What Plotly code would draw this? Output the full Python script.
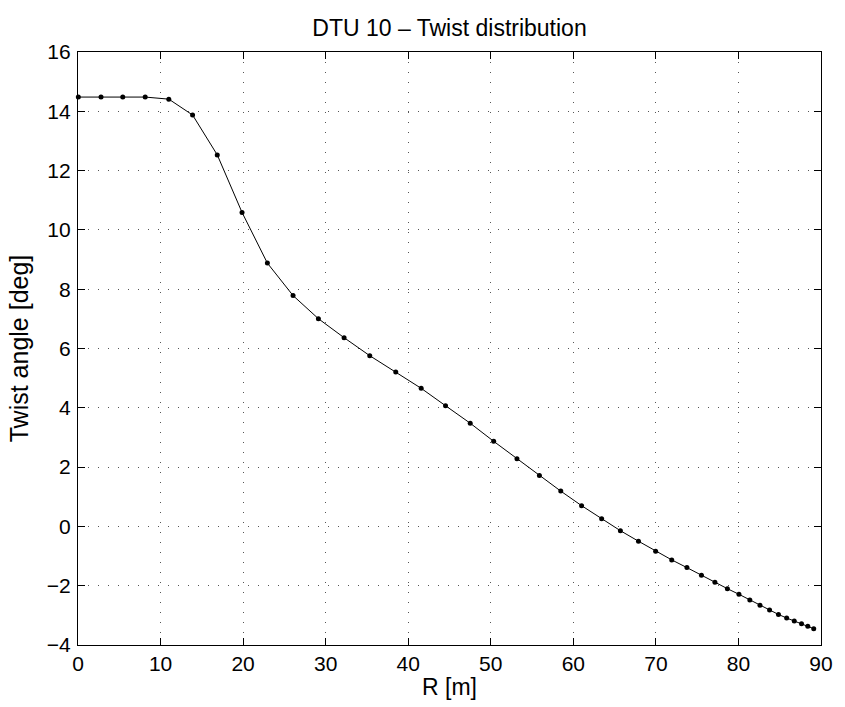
import plotly.graph_objects as go

r_m = [0.04, 2.79, 5.42, 8.14, 11.0, 13.88, 16.87, 19.87, 22.94, 26.05,
       29.12, 32.23, 35.34, 38.49, 41.57, 44.52, 47.51, 50.35, 53.17, 55.89,
       58.48, 61.0, 63.43, 65.7, 67.89, 69.97, 71.92, 73.76, 75.52, 77.15,
       78.66, 80.06, 81.38, 82.61, 83.77, 84.85, 85.84, 86.76, 87.64, 88.4, 89.12]
twist_deg = [14.48, 14.48, 14.48, 14.48, 14.41, 13.875, 12.53, 10.59, 8.88, 7.785,
             7.005, 6.365, 5.757, 5.21, 4.657, 4.07, 3.48, 2.87, 2.28, 1.72,
             1.19, 0.70, 0.26, -0.145, -0.50, -0.84, -1.13, -1.39, -1.65, -1.885,
             -2.10, -2.29, -2.48, -2.66, -2.82, -2.97, -3.09, -3.19, -3.28, -3.37, -3.45]

x_ticks = list(range(0, 91, 10))
y_ticks = list(range(-4, 17, 2))

FONT = "Liberation Sans, Arial, Helvetica, sans-serif"

fig = go.Figure()
fig.add_trace(go.Scatter(
    x=r_m, y=twist_deg, mode="lines+markers",
    line=dict(color="black", width=1),
    marker=dict(color="black", size=5),
    showlegend=False, cliponaxis=False,
))

axis_common = dict(
    showline=True, linecolor="black", linewidth=1.3, mirror="ticks",
    ticks="inside", ticklen=7, tickcolor="black", tickwidth=1,
    showgrid=True, gridcolor="#555555", gridwidth=1, griddash="1px,9px",
    zeroline=False, tickfont=dict(family=FONT, size=21, color="black"),
)

fig.update_layout(
    width=845, height=707,
    margin=dict(l=78, r=15, t=52, b=62),
    paper_bgcolor="white", plot_bgcolor="white",
    font=dict(family=FONT, color="black"),
    title=dict(text="DTU 10 – Twist distribution", x=0.5, xref="paper",
               y=1 - 28 / 707, yref="container", yanchor="middle", xanchor="center",
               font=dict(family=FONT, size=23, color="black")),
    xaxis=dict(range=[0, 90], tickvals=x_ticks,
               title=dict(text="R [m]", standoff=4, font=dict(family=FONT, size=23)),
               **axis_common),
    yaxis=dict(range=[-4, 16], tickvals=y_ticks, ticklabelstandoff=2,
               title=dict(text="Twist angle [deg]", standoff=10, font=dict(family=FONT, size=25)),
               **axis_common),
)

fig.write_html("out.html")
